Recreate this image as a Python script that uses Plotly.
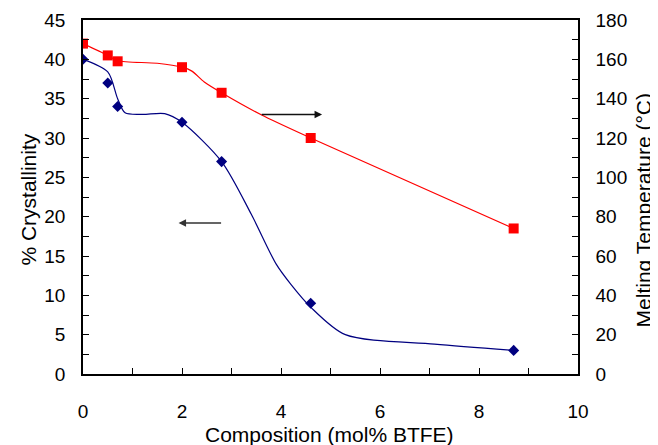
import plotly.graph_objects as go

# Measured data (markers)
composition = [0, 0.5, 0.7, 2.0, 2.8, 4.6, 8.7]
crystallinity = [40, 37, 34, 32, 27, 9, 3]
melting_temp = [168, 162, 159, 156, 143, 120, 74]

# Hand-drawn trend curves
blue_curve_x = [0, 0.5, 0.7, 0.85, 1.2, 1.65, 2.0, 2.8, 3.4, 3.9, 4.2, 4.6, 5.3, 7.1, 8.7]
blue_curve_y = [40, 38.4, 35.0, 33.2, 33.0, 33.1, 32.0, 27.0, 20.3, 14.0, 11.4, 8.5, 5.0, 3.8, 3.0]
red_curve_x = [0, 0.5, 0.7, 1.5, 2.0, 2.2, 2.45, 2.8, 3.6, 4.6, 8.7]
red_curve_y = [168, 162, 159.3, 158, 156, 154, 148.5, 143, 131.8, 120, 74]

x_title = "Composition (mol% BTFE)"
y_title = "% Crystallinity"
y2_title = "Melting Temperature (°C)"

FONT = "Liberation Sans, Arial, sans-serif"
NAVY = "#000080"
RED = "#FF0000"
FS = 19
TS = 21

fig = go.Figure()
fig.add_trace(go.Scatter(x=blue_curve_x, y=blue_curve_y, mode="lines",
                         line=dict(color=NAVY, width=1.2, shape="spline", smoothing=0.8),
                         hoverinfo="skip", showlegend=False))
fig.add_trace(go.Scatter(x=composition, y=crystallinity, mode="markers",
                         marker=dict(symbol="diamond", size=8.5, color=NAVY),
                         showlegend=False))
fig.add_trace(go.Scatter(x=red_curve_x, y=red_curve_y, mode="lines", yaxis="y2",
                         line=dict(color=RED, width=1.2, shape="spline", smoothing=0.8),
                         hoverinfo="skip", showlegend=False))
fig.add_trace(go.Scatter(x=composition, y=melting_temp, mode="markers", yaxis="y2",
                         marker=dict(symbol="square", size=10, color=RED),
                         showlegend=False))

axis_common = dict(showgrid=False, zeroline=False, showline=True, linecolor="black",
                   linewidth=1.5, ticks="inside", ticklen=6, tickcolor="black",
                   automargin=False,
                   tickfont=dict(family=FONT, size=FS, color="black"))

# page body has an 8px margin, so the figure is sized/offset to compensate
fig.update_layout(
    width=650, height=437,
    margin=dict(l=74.5, r=80, t=12, b=71, autoexpand=False),
    paper_bgcolor="white", plot_bgcolor="white",
    font=dict(family=FONT, size=FS, color="black"),
    xaxis=dict(range=[0, 10], dtick=2, tick0=0, mirror=True,
               minor=dict(dtick=1, ticks="inside", ticklen=6, tickcolor="black"),
               ticklabelstandoff=19, **axis_common),
    yaxis=dict(range=[0, 45], dtick=5, tick0=0, mirror=True,
               minor=dict(dtick=2.5, ticks="inside", ticklen=6, tickcolor="black"),
               ticklabelstandoff=12, **axis_common),
    yaxis2=dict(range=[0, 180], dtick=20, tick0=0, overlaying="y", side="right",
                minor=dict(dtick=10, ticks="inside", ticklen=6, tickcolor="black"),
                ticklabelstandoff=12, **axis_common),
)

# axis titles
fig.add_annotation(text=x_title, xref="paper", yref="paper", x=0.497, y=-0.172,
                   showarrow=False, font=dict(family=FONT, size=TS),
                   xanchor="center", yanchor="middle")
fig.add_annotation(text=y_title, xref="paper", yref="paper", x=-0.112, y=0.4915,
                   showarrow=False, textangle=-90, font=dict(family=FONT, size=TS),
                   xanchor="center", yanchor="middle")
fig.add_annotation(text=y2_title, xref="paper", yref="paper", x=1.132, y=0.463,
                   showarrow=False, textangle=-90, font=dict(family=FONT, size=TS),
                   xanchor="center", yanchor="middle")

# arrows pointing to the relevant axis
fig.add_annotation(x=1.93, y=19.2, ax=2.82, ay=19.2, xref="x", yref="y",
                   axref="x", ayref="y", showarrow=True, arrowhead=2, arrowsize=1,
                   arrowwidth=1.5, arrowcolor="#333333", text="")
fig.add_annotation(x=4.83, y=33.0, ax=3.58, ay=33.0, xref="x", yref="y",
                   axref="x", ayref="y", showarrow=True, arrowhead=2, arrowsize=1,
                   arrowwidth=1.5, arrowcolor="#111111", text="")

fig.write_html("out.html")
